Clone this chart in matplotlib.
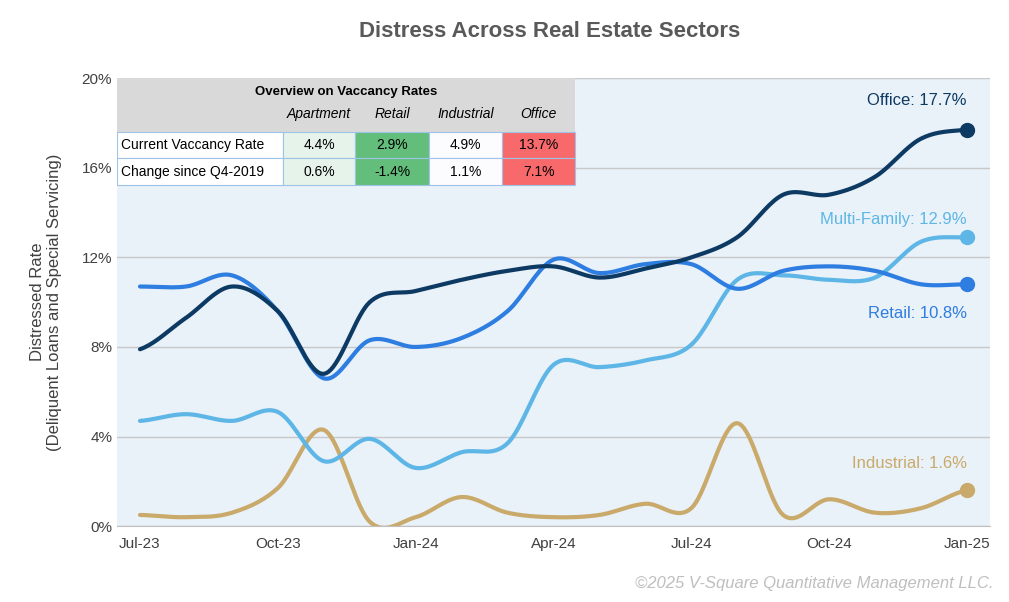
import numpy as np
import matplotlib.pyplot as plt

months = ["Jul-23", "Aug-23", "Sep-23", "Oct-23", "Nov-23", "Dec-23", "Jan-24", "Feb-24", "Mar-24",
          "Apr-24", "May-24", "Jun-24", "Jul-24", "Aug-24", "Sep-24", "Oct-24", "Nov-24", "Dec-24", "Jan-25"]
office = [7.9, 9.3, 10.7, 9.6, 6.8, 10.0, 10.5, 11.0, 11.4, 11.6, 11.1, 11.5, 12.0, 12.9, 14.8, 14.8, 15.6, 17.3, 17.7]
retail = [10.7, 10.7, 11.2, 9.6, 6.6, 8.3, 8.0, 8.4, 9.6, 11.9, 11.3, 11.7, 11.7, 10.6, 11.4, 11.6, 11.4, 10.8, 10.8]
multifamily = [4.7, 5.0, 4.7, 5.1, 2.9, 3.9, 2.6, 3.3, 3.7, 7.2, 7.1, 7.4, 8.1, 11.0, 11.2, 11.0, 11.1, 12.7, 12.9]
industrial = [0.5, 0.4, 0.6, 1.7, 4.3, 0.2, 0.4, 1.3, 0.6, 0.4, 0.5, 1.0, 0.8, 4.6, 0.5, 1.2, 0.6, 0.8, 1.6]

tbl_cols = ["Apartment", "Retail", "Industrial", "Office"]
tbl_rows = ["Current Vaccancy Rate", "Change since Q4-2019"]
tbl_vals = [["4.4%", "2.9%", "4.9%", "13.7%"], ["0.6%", "-1.4%", "1.1%", "7.1%"]]
tbl_colors = ["#e6f3ea", "#63be7b", "#fcfcff", "#f8696b"]


def smooth(y, n=20):
    # catmull-rom through the points
    y = np.asarray(y, float)
    p = np.concatenate([[y[0]], y, [y[-1]]])
    xs, ys = [], []
    for i in range(len(y) - 1):
        p0, p1, p2, p3 = p[i], p[i + 1], p[i + 2], p[i + 3]
        t = np.linspace(0, 1, n, endpoint=False)
        v = 0.5 * (2 * p1 + (-p0 + p2) * t + (2 * p0 - 5 * p1 + 4 * p2 - p3) * t ** 2
                   + (-p0 + 3 * p1 - 3 * p2 + p3) * t ** 3)
        xs.extend(i + t)
        ys.extend(v)
    xs.append(len(y) - 1)
    ys.append(y[-1])
    return np.array(xs), np.array(ys)


plt.rcParams['font.family'] = ['Liberation Sans', 'DejaVu Sans']
fig = plt.figure(figsize=(10.09, 6.02), dpi=100)
ax = fig.add_axes([0.116, 0.126, 0.865, 0.744])
ax.set_facecolor("#e9f1f9")

series = [(industrial, "#c9aa6b", "Industrial"), (multifamily, "#5db6e6", "Multi-Family"),
          (retail, "#2e7de0", "Retail"), (office, "#0d3a63", "Office")]
for vals, c, name in series:
    xs, ys = smooth(vals)
    ax.plot(xs, ys, color=c, lw=3, solid_capstyle='round')
    ax.plot(len(vals) - 1, vals[-1], 'o', color=c, ms=10)

ax.text(18, office[-1] + 1.1, "Office: 17.7%", color="#0d3a63", fontsize=12, ha='right')
ax.text(18, multifamily[-1] + 0.6, "Multi-Family: 12.9%", color="#5db6e6", fontsize=12, ha='right')
ax.text(18, retail[-1] - 1.5, "Retail: 10.8%", color="#2e7de0", fontsize=12, ha='right')
ax.text(18, industrial[-1] + 1.0, "Industrial: 1.6%", color="#c9aa6b", fontsize=12, ha='right')

ax.set_xlim(-0.5, 18.5)
ax.set_ylim(0, 20)
ax.set_yticks([0, 4, 8, 12, 16, 20])
ax.set_yticklabels([f"{v}%" for v in [0, 4, 8, 12, 16, 20]])
ax.set_xticks(range(0, 19, 3))
ax.set_xticklabels(months[::3])
ax.tick_params(labelsize=11, colors="#404040", length=0)
ax.tick_params(axis='x', pad=8)
ax.grid(axis='y', color="#c8c8c8", lw=1)
ax.set_axisbelow(True)
for s in ["top", "right", "left"]:
    ax.spines[s].set_visible(False)
ax.spines["bottom"].set_color("#bfbfbf")
ax.set_ylabel("Distressed Rate\n(Deliquent Loans and Special Servicing)", fontsize=12,
              color="#404040", labelpad=14)

# overview table
tx0, tx1 = 0.0, 0.525
ax.add_patch(plt.Rectangle((tx0, 0.761), tx1 - tx0, 0.239, transform=ax.transAxes,
                           facecolor="#d9d9d9", edgecolor='none', zorder=3))
ax.text(0.262, 0.97, "Overview on Vaccancy Rates", transform=ax.transAxes, ha='center', va='center',
        fontsize=9.5, fontweight='bold', zorder=4)
bounds = [0.0, 0.190, 0.273, 0.357, 0.441, 0.525]
hy = 0.92
for j, c in enumerate(tbl_cols):
    ax.text((bounds[j + 1] + bounds[j + 2]) / 2, hy, c, transform=ax.transAxes, ha='center',
            va='center', fontsize=10, style='italic', zorder=4)
row_top = [0.881, 0.821]
for i, r in enumerate(tbl_rows):
    y0 = row_top[i] - 0.060
    ax.add_patch(plt.Rectangle((0, y0), bounds[1], 0.060, transform=ax.transAxes,
                               facecolor='white', edgecolor='#9dc3e6', lw=0.8, zorder=3))
    ax.text(0.004, y0 + 0.030, r, transform=ax.transAxes, va='center', fontsize=10, zorder=4)
    for j, v in enumerate(tbl_vals[i]):
        ax.add_patch(plt.Rectangle((bounds[j + 1], y0), bounds[j + 2] - bounds[j + 1], 0.060,
                                   transform=ax.transAxes, facecolor=tbl_colors[j],
                                   edgecolor='#9dc3e6', lw=0.8, zorder=3))
        ax.text((bounds[j + 1] + bounds[j + 2]) / 2, y0 + 0.030, v, transform=ax.transAxes,
                ha='center', va='center', fontsize=10, zorder=4)

fig.text(0.545, 0.947, "Distress Across Real Estate Sectors", ha='center', va='center',
         fontsize=16, fontweight='bold', color="#595959")
fig.text(0.985, 0.03, "©2025 V-Square Quantitative Management LLC.", ha='right', va='center',
         fontsize=12, style='italic', color="#bfbfbf")

fig.savefig("out.png", dpi=100)
